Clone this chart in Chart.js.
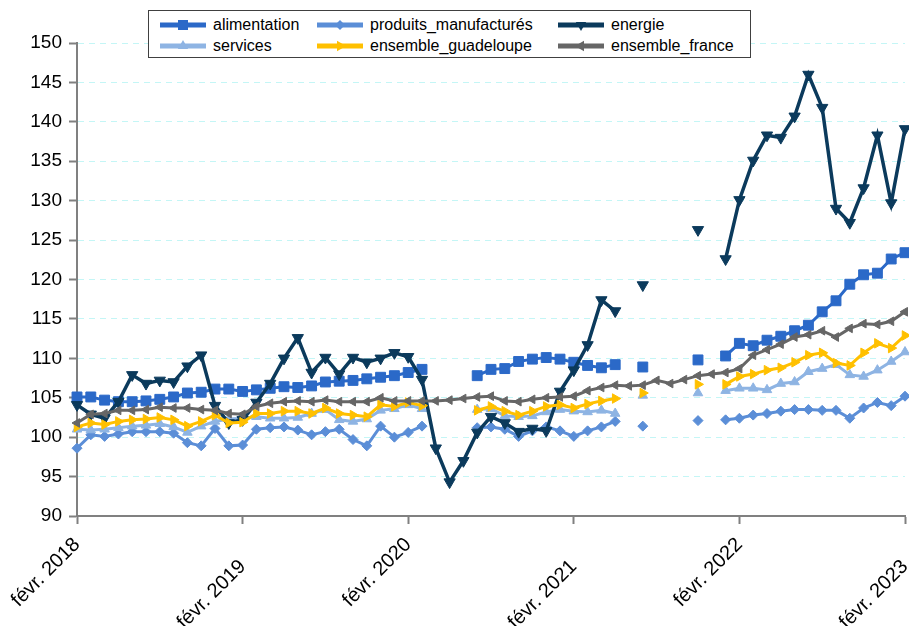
<!DOCTYPE html>
<html>
<head>
<meta charset="utf-8">
<script src="https://cdn.jsdelivr.net/npm/chart.js@4.4.1/dist/chart.umd.min.js"></script>
<style>
  html, body { margin: 0; padding: 0; background: #fff; }
  #wrap { position: relative; width: 909px; height: 626px; }
  #legend {
    position: absolute; left: 148px; top: 10px; width: 603px; height: 48px;
    box-sizing: border-box; border: 1px solid #404040; background: #fff;
    font-family: "Liberation Sans", Arial, sans-serif; font-size: 16px; color: #000;
  }
  .item { position: absolute; height: 20px; line-height: 20px; white-space: nowrap; }
  .item svg { position: absolute; left: 0; top: 3px; }
  .item span { position: absolute; left: 53px; top: 0; }
</style>
</head>
<body>
<div id="wrap">
  <canvas id="c" width="909" height="626"></canvas>
  <div id="legend"></div>
</div>
<script>
// ---- data ----
const months = [
  '2018-02','2018-03','2018-04','2018-05','2018-06','2018-07','2018-08','2018-09','2018-10','2018-11','2018-12','2019-01',
  '2019-02','2019-03','2019-04','2019-05','2019-06','2019-07','2019-08','2019-09','2019-10','2019-11','2019-12','2020-01',
  '2020-02','2020-03','2020-04','2020-05','2020-06','2020-07','2020-08','2020-09','2020-10','2020-11','2020-12','2021-01',
  '2021-02','2021-03','2021-04','2021-05','2021-06','2021-07','2021-08','2021-09','2021-10','2021-11','2021-12','2022-01',
  '2022-02','2022-03','2022-04','2022-05','2022-06','2022-07','2022-08','2022-09','2022-10','2022-11','2022-12','2023-01',
  '2023-02'
];
const tickLabels = ['févr. 2018','févr. 2019','févr. 2020','févr. 2021','févr. 2022','févr. 2023'];

const alimentation = [
  105.1,105.1,104.7,104.5,104.5,104.6,104.8,105.1,105.6,105.7,106.1,106.1,
  105.8,106.0,106.2,106.4,106.3,106.5,107.0,107.1,107.2,107.4,107.6,107.8,
  108.2,108.6,null,null,null,107.8,108.6,108.7,109.6,109.9,110.1,109.9,
  109.5,109.1,108.8,109.2,null,108.9,null,null,null,109.8,null,110.3,
  111.9,111.6,112.3,112.8,113.5,114.2,115.9,117.3,119.4,120.6,120.8,122.6,
  123.4
];
const produits_manufactures = [
  98.6,100.3,100.1,100.4,100.7,100.7,100.7,100.5,99.3,98.9,101.1,98.9,
  99.0,101.0,101.2,101.3,100.9,100.3,100.7,101.0,99.7,98.9,101.4,100.0,
  100.6,101.4,null,null,null,101.2,101.3,101.0,100.1,100.8,101.3,100.8,
  100.1,100.8,101.3,102.0,null,101.4,null,null,null,102.1,null,102.2,
  102.4,102.8,103.0,103.3,103.5,103.5,103.4,103.4,102.4,103.7,104.4,104.0,
  105.2
];
const energie = [
  104.1,102.9,102.4,104.5,107.9,106.8,107.2,107.0,109.0,110.4,104.0,101.8,
  102.2,104.4,106.8,110.0,112.6,108.2,110.1,108.0,110.1,109.5,110.0,110.7,
  110.2,107.3,98.6,94.3,97.0,100.6,102.6,101.8,100.7,101.1,100.8,105.8,
  108.5,111.7,117.4,116.0,null,119.3,null,null,null,126.3,null,122.6,
  130.1,135.1,138.3,138.0,140.7,146.0,141.8,129.0,127.2,131.6,138.3,129.7,
  139.1
];
const services = [
  101.0,100.9,101.0,101.2,101.4,101.5,101.7,101.3,100.6,101.4,102.0,102.3,
  102.4,102.6,102.4,102.4,102.5,103.0,103.5,102.2,102.0,102.3,103.4,103.6,
  104.1,103.6,null,null,null,103.5,103.6,102.7,102.6,102.7,103.2,103.5,
  103.3,103.2,103.4,103.0,null,105.3,null,null,null,105.6,null,105.9,
  106.2,106.2,106.0,106.8,107.0,108.3,108.7,109.2,107.9,107.7,108.5,109.6,
  110.8
];
const ensemble_guadeloupe = [
  101.3,101.8,101.6,102.0,102.2,102.3,102.5,102.2,101.4,102.0,102.8,101.8,
  101.9,103.0,103.0,103.3,103.3,103.0,103.7,103.0,102.8,102.6,104.1,103.9,
  104.4,104.0,null,null,null,103.4,103.9,103.3,102.8,103.3,103.9,104.1,
  103.7,104.2,104.6,104.9,null,105.6,null,null,null,106.7,null,106.7,
  107.7,108.0,108.5,108.8,109.5,110.4,110.7,109.4,109.1,110.7,111.9,111.3,
  112.9
];
const ensemble_france = [
  101.8,102.9,103.0,103.4,103.4,103.5,103.8,103.7,103.7,103.5,103.4,103.0,
  102.9,103.9,104.3,104.5,104.6,104.5,104.7,104.5,104.5,104.5,105.0,104.6,
  104.6,104.6,104.6,104.7,104.9,105.1,105.2,104.6,104.5,104.8,105.0,105.1,
  105.2,105.9,106.3,106.6,106.5,106.6,107.2,106.8,107.3,107.8,108.0,108.2,
  108.7,110.4,111.1,111.8,112.7,113.0,113.5,112.7,113.8,114.4,114.3,114.7,
  115.9
];

// ---- styles ----
const FONT = '"Liberation Sans", Arial, sans-serif';
const series = [
  { name: 'alimentation', data: alimentation, color: '#2B69C8', shape: 'rect', rot: 0, r: 7, w: 3 },
  { name: 'produits_manufacturés', data: produits_manufactures, color: '#5B8ED7', shape: 'rectRot', rot: 0, r: 5, w: 3 },
  { name: 'energie', data: energie, color: '#0B3A5C', shape: 'triangle', rot: 180, r: 6.5, w: 3.5 },
  { name: 'services', data: services, color: '#8EB4E3', shape: 'triangle', rot: 0, r: 5.5, w: 3 },
  { name: 'ensemble_guadeloupe', data: ensemble_guadeloupe, color: '#FFC000', shape: 'triangle', rot: 90, r: 5.5, w: 3 },
  { name: 'ensemble_france', data: ensemble_france, color: '#666666', shape: 'triangle', rot: -90, r: 5, w: 3 }
];
// draw order like the original: later series on top
const drawOrder = { 'alimentation': 6, 'produits_manufacturés': 5, 'services': 4, 'energie': 3, 'ensemble_guadeloupe': 2, 'ensemble_france': 1 };

const datasets = series.map(s => ({
  label: s.name,
  data: s.data.map((v, i) => ({ x: i, y: v })),
  borderColor: s.color,
  backgroundColor: s.color,
  borderWidth: s.w,
  pointStyle: s.shape,
  pointRotation: s.rot,
  pointRadius: s.r,
  pointBorderWidth: 1,
  pointBorderColor: s.color,
  pointBackgroundColor: s.color,
  tension: 0,
  spanGaps: false,
  clip: false,
  order: drawOrder[s.name]
}));

const xTickFont = { family: FONT, size: 20 };

new Chart(document.getElementById('c'), {
  type: 'line',
  data: { datasets },
  options: {
    responsive: false,
    animation: false,
    devicePixelRatio: 1,
    layout: { autoPadding: false, padding: { top: 43, right: 4, bottom: 0, left: 0 } },
    plugins: { legend: { display: false }, tooltip: { enabled: false } },
    scales: {
      // main x axis: axis line, tick marks, labels of 2018, 2020, 2022
      x: {
        type: 'linear', min: 0, max: 60,
        afterFit: s => { s.height = 110; s.paddingLeft = 0; s.paddingRight = 0; },
        border: { display: true, color: '#808080', width: 2 },
        grid: { drawOnChartArea: false, drawTicks: true, tickLength: 8, tickColor: '#808080', tickWidth: 2 },
        ticks: {
          stepSize: 12, autoSkip: false, minRotation: 45, maxRotation: 45, padding: 9,
          color: '#000', font: xTickFont,
          callback: v => ((v / 12) % 2 === 0 ? tickLabels[v / 12] : '')
        }
      },
      // staggered labels of 2019, 2021, 2023, anchored on the y = 90 line and drawn lower
      x2: {
        type: 'linear', axis: 'x', min: 0, max: 60, position: { y: 90 },
        afterFit: s => { s.height = 0; s.paddingLeft = 0; s.paddingRight = 0; },
        border: { display: false },
        grid: { display: false, drawOnChartArea: false, drawTicks: false },
        ticks: {
          stepSize: 12, autoSkip: false, minRotation: 45, maxRotation: 45, padding: 39,
          color: '#000', font: xTickFont,
          callback: v => ((v / 12) % 2 === 1 ? tickLabels[v / 12] : '')
        }
      },
      y: {
        min: 90, max: 150,
        afterFit: s => { s.width = 77; },
        border: { display: true, color: '#808080', width: 2, dash: [6, 5] },
        grid: { color: '#C4F6F6', lineWidth: 1, tickLength: 8, tickColor: '#808080', tickWidth: 2, tickBorderDash: [] },
        ticks: { stepSize: 5, padding: 7, color: '#000', font: { family: FONT, size: 19 } }
      }
    }
  }
});

// ---- legend (HTML) ----
function markerSvg(s) {
  const c = s.color, cx = 23, cy = 7;
  let m = '';
  if (s.shape === 'rect') m = `<rect x="${cx-5}" y="${cy-5}" width="10" height="10" fill="${c}"/>`;
  else if (s.shape === 'rectRot') m = `<polygon points="${cx},${cy-5} ${cx+5},${cy} ${cx},${cy+5} ${cx-5},${cy}" fill="${c}"/>`;
  else {
    const r = 6, pts = [];
    for (let k = 0; k < 3; k++) {
      const a = (s.rot + k * 120) * Math.PI / 180;
      pts.push(`${(cx + Math.sin(a) * r).toFixed(2)},${(cy - Math.cos(a) * r).toFixed(2)}`);
    }
    m = `<polygon points="${pts.join(' ')}" fill="${c}"/>`;
  }
  return `<svg width="46" height="14" viewBox="0 0 46 14"><line x1="0" y1="7" x2="46" y2="7" stroke="${c}" stroke-width="5"/>${m}</svg>`;
}
const legendCols = [11, 168, 409];
const legendRows = [4, 25];
const leg = document.getElementById('legend');
series.forEach((s, i) => {
  const d = document.createElement('div');
  d.className = 'item';
  d.style.left = legendCols[i % 3] + 'px';
  d.style.top = legendRows[Math.floor(i / 3)] + 'px';
  d.innerHTML = markerSvg(s) + `<span>${s.name}</span>`;
  leg.appendChild(d);
});
</script>
</body>
</html>
